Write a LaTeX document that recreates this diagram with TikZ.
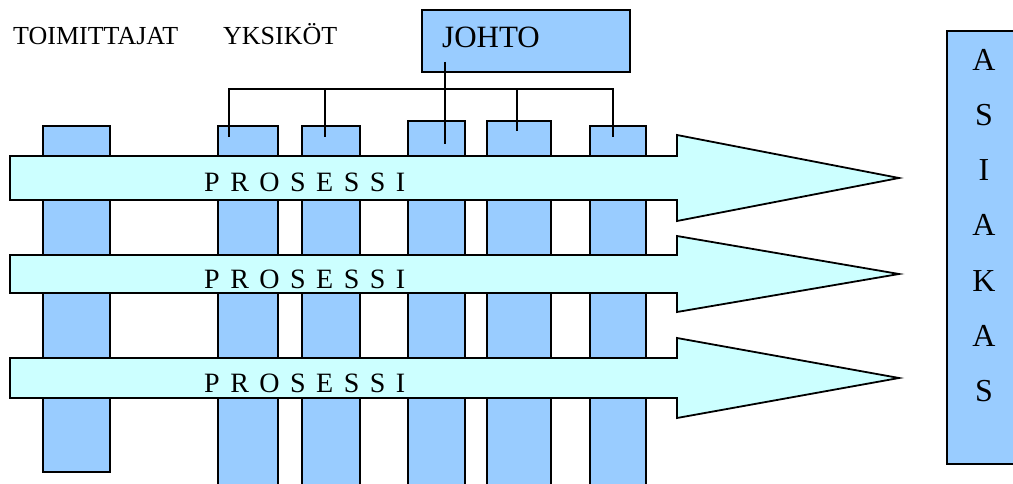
\documentclass[tikz,border=0pt]{standalone}
\usepackage{fontspec}
\setmainfont{Liberation Serif}
\usepackage{tikz}
\definecolor{unitblue}{RGB}{153,204,255}
\definecolor{flowcyan}{RGB}{204,255,255}
\newcommand\lgap{\hspace{10.5pt}}
\newcommand\prosessi{P\lgap R\lgap O\lgap S\lgap E\lgap S\lgap S\lgap I}

\begin{document}
\begin{tikzpicture}[x=1pt,y=-1pt,
  unit/.style={draw, rectangle, fill=unitblue, line width=1.8pt, anchor=north west, inner sep=0pt},
  link/.style={line width=1.8pt},
  flow/.style={draw, fill=flowcyan, line width=1.8pt, line join=miter}]
\clip (0,0) rectangle (1013,484);
% headings
\node[anchor=base west, inner sep=0pt, font=\fontsize{26}{30}\selectfont] (toim) at (13,45) {TOIMITTAJAT};
\node[anchor=base west, inner sep=0pt, font=\fontsize{26}{30}\selectfont] (yks) at (223,45) {YKSIKÖT};
% supplier column and unit columns
\node[unit, minimum width=67pt, minimum height=346pt] (s) at (42,125) {};
\foreach \n/\x/\y/\w in {1/217/125/60, 2/301/125/58, 3/407/120/57, 4/486/120/64, 5/589/125/56}
  \node[unit, minimum width=\w pt, minimum height=380pt] (u\n) at (\x,\y) {};
% process arrows across the columns
\foreach \n/\c/\s/\h in {1/178/22/43, 2/274/19/38, 3/378/20/40} {
  \draw[flow] (10,\c-\s) -- (677,\c-\s) -- (677,\c-\h) -- (899,\c)
    -- (677,\c+\h) -- (677,\c+\s) -- (10,\c+\s) -- cycle;
  \node[anchor=base west, inner sep=0pt, font=\fontsize{28}{30}\selectfont] (p\n) at (204,\c+14) {\prosessi};
}
% management lines down to the units
\coordinate (bus) at (0,89);
\coordinate (t0) at (445,62);
\coordinate (t1) at (229,137);
\coordinate (t2) at (325,137);
\coordinate (t3) at (445,144);
\coordinate (t4) at (517,131);
\coordinate (t5) at (613,137);
\draw[link] (t1) -- (t1 |- bus) -- (t5 |- bus) -- (t5);
\draw[link] (t2) -- (t2 |- bus);
\draw[link] (t4) -- (t4 |- bus);
\node[unit, minimum width=208pt, minimum height=62pt] (johto) at (421,9) {};
\node[anchor=base west, inner sep=0pt, font=\fontsize{31}{34}\selectfont] (jtext) at (442,48) {JOHTO};
\draw[link] (t0) -- (t3);
% customer
\node[unit, minimum width=80pt, minimum height=433pt] (asiakas) at (946,30) {};
\foreach \l [count=\i] in {A,S,I,A,K,A,S}
  \node[anchor=base, font=\fontsize{32}{36}\selectfont] (a\i) at (984,16+55*\i) {\l};
\end{tikzpicture}
\end{document}
